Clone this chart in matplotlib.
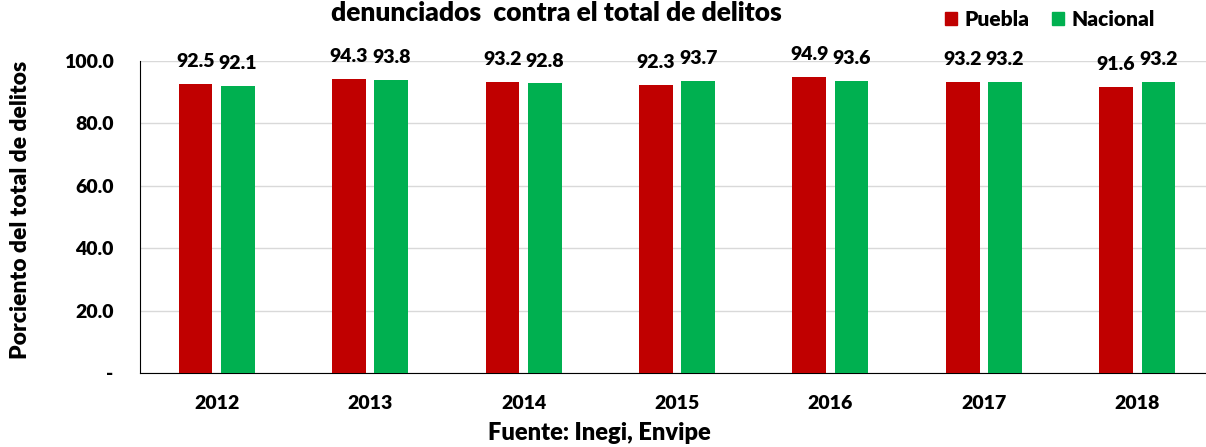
import matplotlib
matplotlib.use("Agg")
import matplotlib.pyplot as plt
import numpy as np
from matplotlib.patches import Patch

plt.rcParams['font.family'] = ['Lato', 'DejaVu Sans']
plt.rcParams['font.weight'] = 'bold'

years = ['2012', '2013', '2014', '2015', '2016', '2017', '2018']
puebla = [92.5, 94.3, 93.2, 92.3, 94.9, 93.2, 91.6]
nacional = [92.1, 93.8, 92.8, 93.7, 93.6, 93.2, 93.2]
yticks = [0, 20, 40, 60, 80, 100]
ytick_labels = ['-', '20.0', '40.0', '60.0', '80.0', '100.0']

red = '#C00000'
green = '#00B050'
FW = 'heavy'

W, H = 1206, 447
fig = plt.figure(figsize=(W / 100, H / 100), dpi=100)
ax = fig.add_axes([140 / W, 1 - 373 / H, 1074 / W, 312 / H])

x = np.arange(len(years))
bw = 0.22
off = 0.138
b1 = ax.bar(x - off, puebla, bw, color=red, edgecolor='none', zorder=3)
b2 = ax.bar(x + off, nacional, bw, color=green, edgecolor='none', zorder=3)

for bars, vals in ((b1, puebla), (b2, nacional)):
    for r, v in zip(bars, vals):
        ax.annotate(f'{v:.1f}', (r.get_x() + r.get_width() / 2, v),
                    xytext=(0, 12.2), textcoords='offset points',
                    ha='center', va='baseline', fontsize=14, fontweight=FW)

ax.set_xlim(-0.5, len(years) - 0.5)
ax.set_ylim(0, 100)
ax.set_yticks(yticks)
ax.set_yticklabels(ytick_labels, fontsize=14, fontweight=FW)
ax.set_xticks(x)
ax.set_xticklabels(years, fontsize=14, fontweight=FW)
ax.tick_params(axis='both', length=0)
ax.tick_params(axis='y', pad=19)
ax.tick_params(axis='x', pad=16)
ax.grid(axis='y', color='#d9d9d9', linewidth=1, zorder=0)
for s in ['top', 'right']:
    ax.spines[s].set_visible(False)
ax.spines['left'].set_color('black')
ax.spines['bottom'].set_color('black')

ax.set_ylabel('Porciento del total de delitos', fontsize=16.5, fontweight=FW)
ax.yaxis.set_label_coords((31 - 140) / 1074, (373 - 210) / 312)

fig.text(556 / W, 1 - 21 / H, 'denunciados  contra el total de delitos',
         ha='center', va='baseline', fontsize=19, fontweight=FW)
fig.text(599 / W, 1 - 440 / H, 'Fuente: Inegi, Envipe',
         ha='center', va='baseline', fontsize=17, fontweight=FW)

handles = [Patch(color=red, label='Puebla'), Patch(color=green, label='Nacional')]
fig.legend(handles=handles, loc='upper left', bbox_to_anchor=(945 / W, 1 - 10 / H),
           ncol=2, frameon=False, handlelength=0.58, handleheight=0.58,
           handletextpad=0.34, columnspacing=1.1, borderpad=0, borderaxespad=0,
           prop={'weight': FW, 'size': 15})

fig.savefig('out.png', dpi=100)
